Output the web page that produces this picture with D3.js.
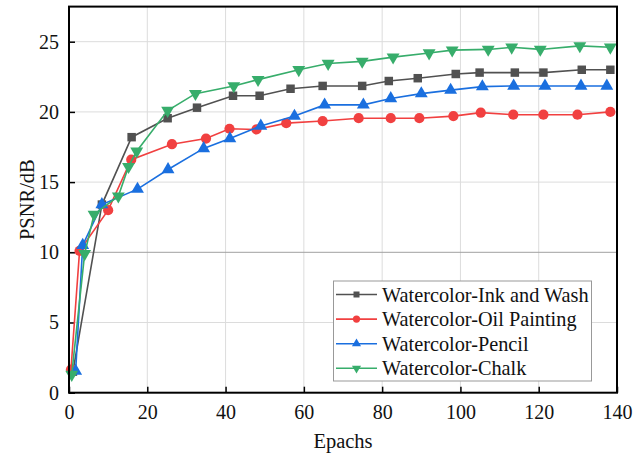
<!DOCTYPE html>
<html>
<head>
<meta charset="utf-8">
<script src="https://cdn.jsdelivr.net/npm/d3@7"></script>
<style>
  body { margin: 0; background: #fff; }
  svg { display: block; font-family: "Liberation Serif", "Times New Roman", serif; }
</style>
</head>
<body>
<svg id="chart"></svg>
<script>
// data
var inkX    = [1, 8.4, 16, 25.2, 32.7, 41.9, 48.7, 56.6, 64.8, 74.9, 81.7, 89.1, 98.8, 104.9, 113.9, 121.2, 131, 138.3];
var inkY    = [1.5, 13.4, 18.2, 19.55, 20.3, 21.15, 21.15, 21.65, 21.85, 21.85, 22.2, 22.4, 22.7, 22.8, 22.8, 22.8, 23.0, 23.0];
var oilX    = [0.5, 2.7, 10, 15.9, 26.3, 35, 41, 47.9, 55.5, 64.8, 74, 82.2, 89.5, 98.2, 105.2, 113.5, 121.2, 129.9, 138.3];
var oilY    = [1.65, 10.1, 13.0, 16.6, 17.7, 18.1, 18.8, 18.75, 19.2, 19.35, 19.55, 19.55, 19.55, 19.7, 19.95, 19.8, 19.8, 19.8, 20.0];
var pencilX = [1.7, 3.5, 8.4, 17.5, 25.3, 34.4, 41.1, 49, 57.6, 65.3, 75.2, 82.2, 90, 97.5, 105.6, 113.6, 121.6, 130.8, 137.4];
var pencilY = [1.55, 10.5, 13.4, 14.5, 15.9, 17.4, 18.1, 19.0, 19.7, 20.5, 20.5, 20.95, 21.3, 21.55, 21.8, 21.85, 21.85, 21.85, 21.85];
var chalkX  = [0.7, 4, 6.4, 12.6, 15.2, 17.3, 25.2, 32.3, 42.1, 48.3, 58.7, 66.2, 74.9, 82.8, 92, 97.9, 107.1, 113.1, 120.4, 130.5, 138.3];
var chalkY  = [1.3, 9.9, 12.7, 14.0, 16.1, 17.2, 20.1, 21.3, 21.85, 22.3, 23.0, 23.45, 23.6, 23.9, 24.2, 24.4, 24.45, 24.6, 24.45, 24.7, 24.6];

var seriesNames = ["Watercolor-Ink and Wash", "Watercolor-Oil Painting", "Watercolor-Pencil", "Watercolor-Chalk"];
var xTicks = [0, 20, 40, 60, 80, 100, 120, 140];
var yTicks = [0, 5, 10, 15, 20, 25];

var series = [
  { name: seriesNames[0], xs: inkX, ys: inkY, color: "#515151", symbol: d3.symbolSquare, size: 72 },
  { name: seriesNames[1], xs: oilX, ys: oilY, color: "#F14040", symbol: d3.symbolCircle, size: 82 },
  { name: seriesNames[2], xs: pencilX, ys: pencilY, color: "#1A6FDF", symbol: d3.symbolTriangle, size: 72 },
  { name: seriesNames[3], xs: chalkX, ys: chalkY, color: "#37AD6B", symbol: d3.symbolTriangle, size: 72, flip: true }
];

var W = 642, H = 458;
var plotL = 69, plotR = 617, plotT = 6.6, plotB = 392.7;

var svg = d3.select("#chart").attr("width", W).attr("height", H);

var x = d3.scaleLinear().domain([0, 140]).range([plotL, plotR]);
var y = d3.scaleLinear().domain([0, 27.5]).range([plotB, plotT]);

// grid
var grid = svg.append("g");
grid.selectAll(".gx").data(xTicks.slice(1, -1)).enter().append("line")
  .attr("x1", d => x(d)).attr("x2", d => x(d))
  .attr("y1", plotT).attr("y2", plotB)
  .attr("stroke", "#dcdcdc").attr("stroke-width", 1);
grid.selectAll(".gy").data(yTicks.slice(1)).enter().append("line")
  .attr("x1", plotL).attr("x2", plotR)
  .attr("y1", d => y(d)).attr("y2", d => y(d))
  .attr("stroke", d => d === 10 ? "#a0a0a0" : "#dcdcdc").attr("stroke-width", 1);

// axes, ticks inward
var xAxis = svg.append("g").attr("transform", "translate(0," + plotB + ")")
  .call(d3.axisBottom(x).tickValues(xTicks).tickSizeInner(-6).tickSizeOuter(0).tickPadding(12));
var yAxis = svg.append("g").attr("transform", "translate(" + plotL + ",0)")
  .call(d3.axisLeft(y).tickValues(yTicks).tickSizeInner(-6).tickSizeOuter(0).tickPadding(10));
[xAxis, yAxis].forEach(function(a) {
  a.select(".domain").remove();
  a.selectAll(".tick line").attr("stroke", "#000").attr("stroke-width", 1.5);
  a.selectAll(".tick text").attr("font-size", 20).attr("fill", "#111")
    .attr("font-family", "Liberation Serif, Times New Roman, serif");
});
xAxis.selectAll(".tick text").attr("dy", "0.7em");

// lines and markers
var line = d3.line().x(d => x(d[0])).y(d => y(d[1]));
series.forEach(function(s) {
  var pts = s.xs.map((v, i) => [v, s.ys[i]]);
  svg.append("path").datum(pts)
    .attr("d", line).attr("fill", "none")
    .attr("stroke", s.color).attr("stroke-width", 1.6);
  svg.selectAll(null).data(pts).enter().append("path")
    .attr("d", d3.symbol().type(s.symbol).size(s.size))
    .attr("transform", d => "translate(" + x(d[0]) + "," + y(d[1]) + ")" + (s.flip ? " rotate(180)" : ""))
    .attr("fill", s.color);
});

// frame
svg.append("rect")
  .attr("x", plotL).attr("y", plotT)
  .attr("width", plotR - plotL).attr("height", plotB - plotT)
  .attr("fill", "none").attr("stroke", "#000").attr("stroke-width", 2);

// axis titles
svg.append("text")
  .attr("x", (plotL + plotR) / 2).attr("y", 448)
  .attr("text-anchor", "middle").attr("font-size", 20.5).attr("fill", "#111")
  .text("Epachs");
svg.append("text")
  .attr("transform", "translate(27," + y(13.75) + ") rotate(-90)")
  .attr("text-anchor", "middle").attr("dy", "0.35em").attr("font-size", 20.5).attr("fill", "#111")
  .text("PSNR/dB");

// legend
var lg = svg.append("g");
lg.append("rect")
  .attr("x", 333.5).attr("y", 281).attr("width", 258).attr("height", 100)
  .attr("fill", "#fff").attr("stroke", "#999").attr("stroke-width", 1);
series.forEach(function(s, i) {
  var cy = 294.5 + i * 24.6;
  lg.append("line").attr("x1", 336).attr("x2", 377).attr("y1", cy).attr("y2", cy)
    .attr("stroke", s.color).attr("stroke-width", 1.6);
  lg.append("path")
    .attr("d", d3.symbol().type(s.symbol).size(s.size * 0.5))
    .attr("transform", "translate(356.5," + cy + ")" + (s.flip ? " rotate(180)" : ""))
    .attr("fill", s.color);
  lg.append("text").attr("x", 382).attr("y", cy).attr("dy", "0.35em")
    .attr("font-size", 20.3).attr("fill", "#111").text(s.name);
});
</script>
</body>
</html>
